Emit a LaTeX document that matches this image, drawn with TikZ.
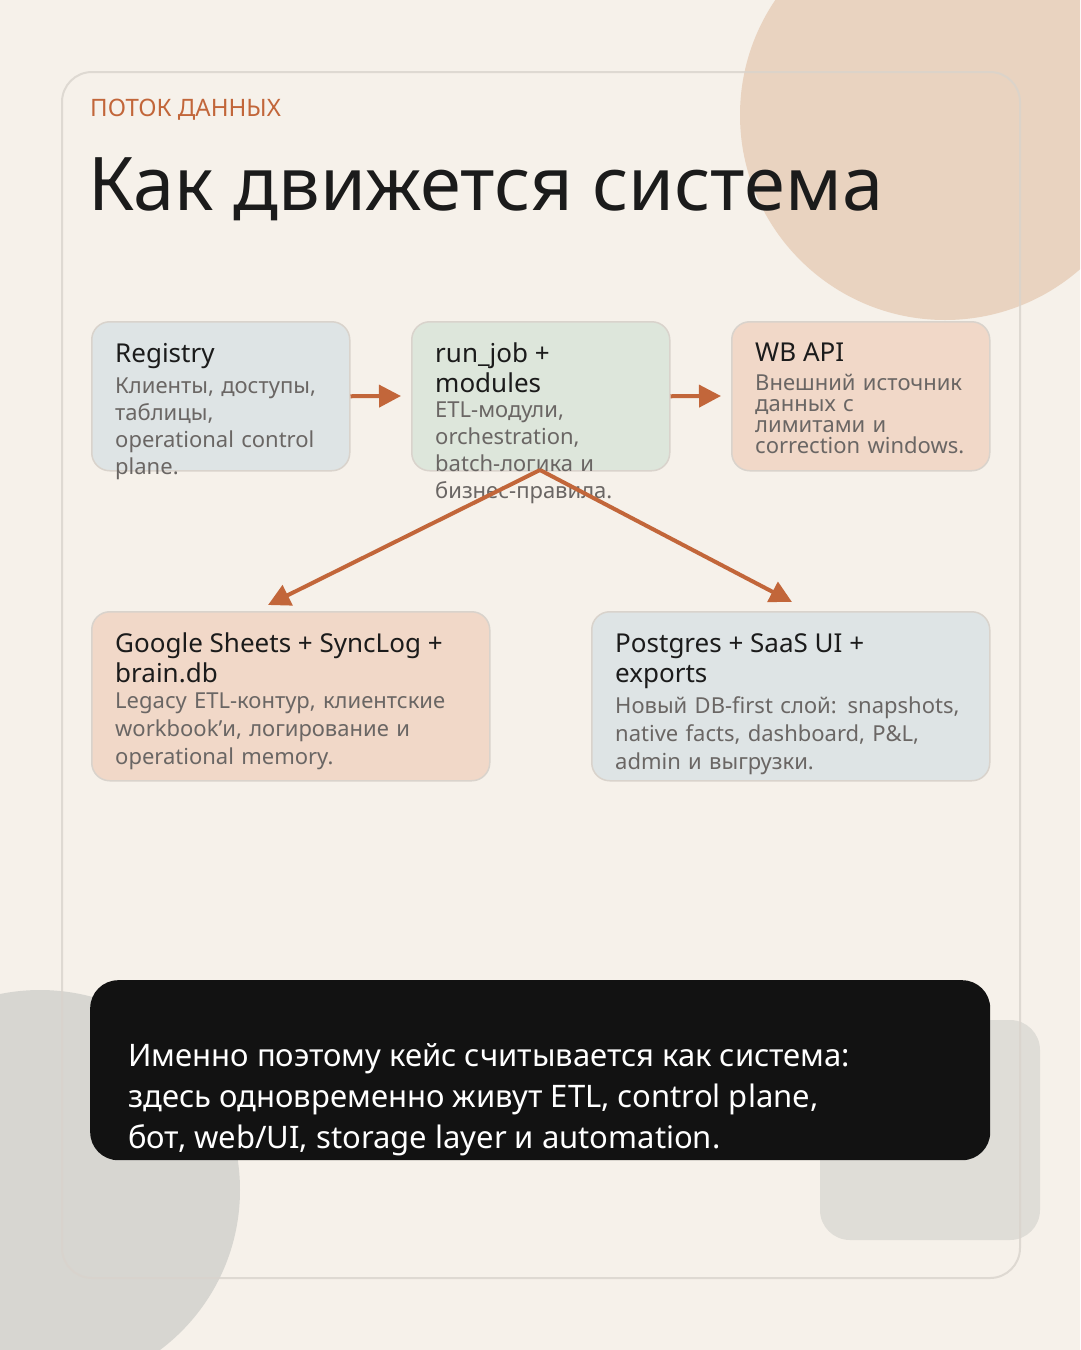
\documentclass[tikz,border=0pt]{standalone}
\usepackage{fontspec}
\setmainfont{Noto Sans}
\usetikzlibrary{arrows.meta}
\definecolor{bg}{HTML}{F6F1EA}
\definecolor{peachc}{HTML}{E9D3C0}
\definecolor{grayc}{HTML}{D7D6D1}
\definecolor{grayr}{HTML}{DFDDD7}
\definecolor{acc}{HTML}{C2663A}
\definecolor{bluebox}{HTML}{DEE4E5}
\definecolor{greenbox}{HTML}{DDE6DB}
\definecolor{peachbox}{HTML}{F1D8C8}
\definecolor{bord}{HTML}{D9D3CC}
\definecolor{txt}{HTML}{1B1B1B}
\definecolor{sub}{HTML}{6A6664}
\begin{document}
\begin{tikzpicture}[x=1pt,y=-1pt,
  box/.style={draw=bord,line width=1.5pt,rounded corners=18pt,anchor=north west,inner sep=0pt},
  hd/.style={anchor=north west,align=left,inner sep=0pt,font=\fontsize{26}{30}\selectfont\bfseries,text=txt},
  bd/.style={anchor=north west,align=left,inner sep=0pt,font=\fontsize{22}{27}\selectfont,text=sub},
  arr/.style={draw=acc,line width=4pt,-{Triangle[length=22pt,width=22pt]}}]
\useasboundingbox (0,0) rectangle (1080,1350);
\fill[bg] (0,0) rectangle (1080,1350);
\begin{scope}
\clip (0,0) rectangle (1080,1350);
\fill[peachc] (945,115) circle (205);
\fill[grayc] (40,1190) circle (200);
\end{scope}
\fill[grayr,rounded corners=30pt] (820,1020) rectangle (1040,1240);
\draw[bord,line width=2pt,rounded corners=30pt,opacity=0.8] (62,72) rectangle (1020,1278);
\node[anchor=west,inner sep=0pt,text=acc,font=\fontsize{24}{28}\selectfont\bfseries] (kick) at (90,110) {ПОТОК ДАННЫХ};
\node[anchor=base west,inner sep=0pt,text=txt,font=\fontsize{74}{80}\selectfont] (title) at (88,210) {Как движется система};

\node[box,fill=bluebox,minimum width=258pt,minimum height=149pt] (reg) at (91,321) {};
\node[box,fill=greenbox,minimum width=258pt,minimum height=149pt] (run) at (411,321) {};
\node[box,fill=peachbox,minimum width=258pt,minimum height=149pt] (wb) at (731,321) {};
\node[box,fill=peachbox,minimum width=398pt,minimum height=169pt] (gs) at (91,611) {};
\node[box,fill=bluebox,minimum width=398pt,minimum height=169pt] (pg) at (591,611) {};

\node[hd] (regh) at (115,343) {Registry};
\node[bd,text width=220pt] (regb) at (115,378) {Клиенты, доступы,\\таблицы,\\operational control\\plane.};
\node[hd] (runh) at (435,343) {run\_job +\\modules};
\node[bd,text width=220pt] (runb) at (435,402) {ETL-модули,\\orchestration,\\batch-логика и\\бизнес-правила.};
\node[hd] (wbh) at (755,343) {WB API};
\node[bd,text width=230pt,font=\fontsize{22}{21}\selectfont] (wbb) at (755,374) {Внешний источник\\данных с\\лимитами и\\correction windows.};
\node[hd] (gsh) at (115,633) {Google Sheets + SyncLog +\\brain.db};
\node[bd,text width=360pt,font=\fontsize{22}{28}\selectfont] (gsb) at (115,693) {Legacy ETL-контур, клиентские\\workbook'и, логирование и\\operational memory.};
\node[hd] (pgh) at (615,633) {Postgres + SaaS UI +\\exports};
\node[bd,text width=360pt,font=\fontsize{22}{28}\selectfont] (pgb) at (615,696) {Новый DB-first слой: snapshots,\\native facts, dashboard, P\&L,\\admin и выгрузки.};

\coordinate (split) at (540,470);
\draw[arr] (reg.east) -- (401,396);
\draw[arr] (run.east) -- (721,396);
\draw[arr] (split) -- (268,605);
\draw[arr] (split) -- (792,602);

\node[fill=black!93,rounded corners=28pt,anchor=north west,minimum width=900pt,minimum height=180pt,inner sep=0pt] (cta) at (90,980) {};
\begin{scope}
\clip[rounded corners=28pt] (90,980) rectangle (990,1160);
\node[anchor=north west,align=left,inner sep=0pt,text=white,font=\fontsize{31}{41}\selectfont\bfseries] (ctat) at (128,1043) {Именно поэтому кейс считывается как система:\\здесь одновременно живут ETL, control plane,\\бот, web/UI, storage layer и automation.};
\end{scope}
\end{tikzpicture}
\end{document}
